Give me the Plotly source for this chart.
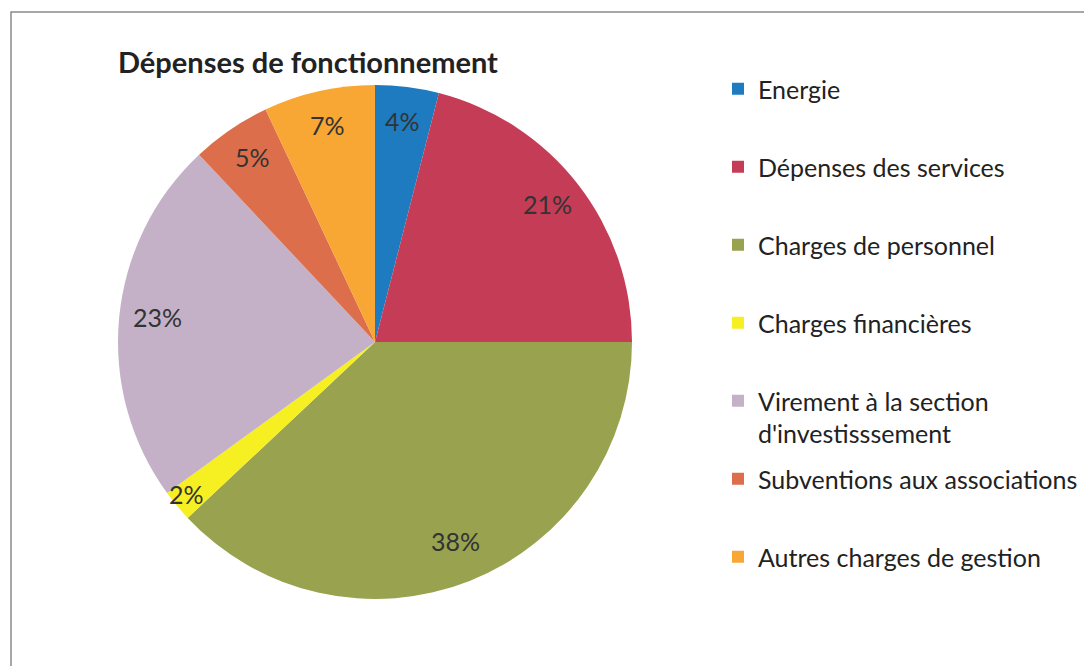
import math
import plotly.graph_objects as go

# data
categories = ["Energie", "Dépenses des services", "Charges de personnel",
              "Charges financières", "Virement à la section<br>d'investisssement",
              "Subventions aux associations", "Autres charges de gestion"]
values = [4, 21, 38, 2, 23, 5, 7]
colors = ["#1f7bbf", "#c53c56", "#98a24f", "#f6ef22", "#c4b1c7", "#dd6e4c", "#f8a634"]

W, H = 1092, 666
OFF = 8                       # page body margin, positions below are screen pixels
cx, cy, r = 375 - OFF, 342 - OFF, 257
FONT = "Lato, 'Open Sans', sans-serif"


def px(x):
    return (x - OFF) / W


def py(y):
    return 1 - (y - OFF) / H


fig = go.Figure()
fig.add_trace(go.Pie(
    labels=categories, values=values, sort=False, direction="clockwise", rotation=0,
    marker=dict(colors=colors, line=dict(width=0)),
    textinfo="none", hoverinfo="label+percent", showlegend=False,
    domain=dict(x=[(cx - r) / W, (cx + r) / W], y=[(H - cy - r) / H, (H - cy + r) / H]),
))

# percent labels placed like excel, along each slice's middle angle
total = sum(values)
cum = 0
for v in values:
    ang = 2 * math.pi * (cum + v / 2) / total
    cum += v
    f = 0.95 if v / total < 0.03 else 0.85
    fig.add_annotation(
        x=(cx + r * f * math.sin(ang)) / W, y=(H - cy + r * f * math.cos(ang) + 4) / H,
        xref="paper", yref="paper", xanchor="center", yanchor="middle",
        text=f"{round(100 * v / total)}%", showarrow=False,
        font=dict(family=FONT, size=25, color="#333"))

# legend entries (dummy traces so the spacing can follow the original)
for i, (name, c) in enumerate(zip(categories, colors)):
    fig.add_trace(go.Scatter(
        x=[None], y=[None], mode="markers", name=name, legendgroup=f"g{i}",
        marker=dict(symbol="square", size=12, color=c),
        legend="legend" if i < 5 else "legend2"))

leg = dict(font=dict(family=FONT, size=25, color="#222"), tracegroupgap=42.5,
           valign="top", bgcolor="rgba(0,0,0,0)", xanchor="left", yanchor="top",
           itemclick=False)
fig.update_layout(
    width=W, height=H, margin=dict(l=0, r=0, t=0, b=0),
    paper_bgcolor="white", plot_bgcolor="white",
    xaxis=dict(visible=False), yaxis=dict(visible=False),
    title=dict(text="<b>Dépenses de fonctionnement</b>", x=px(118), xanchor="left",
               y=py(63), yanchor="middle",
               font=dict(family=FONT, size=29, color="#222")),
    legend=dict(x=px(718), y=py(66), **leg),
    legend2=dict(x=px(718), y=py(456), **leg),
    shapes=[dict(type="rect", xref="paper", yref="paper", x0=px(11), x1=1.2,
                 y0=-0.2, y1=py(12), line=dict(color="#8a8a8a", width=1.5))],
)

fig.write_html("out.html")
